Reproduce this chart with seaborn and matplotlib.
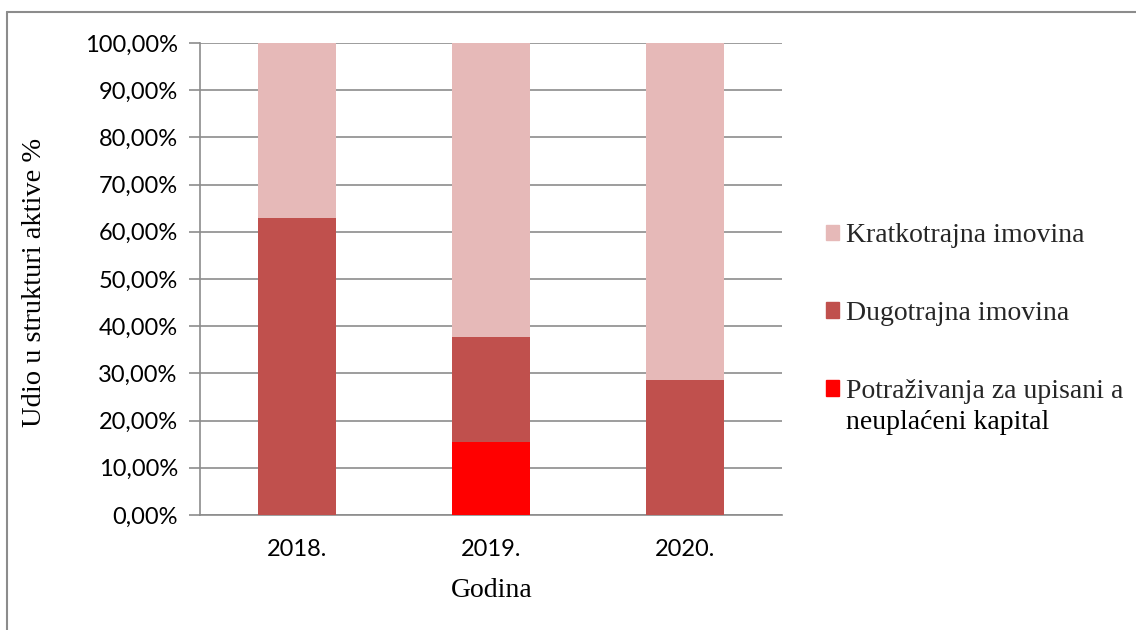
import numpy as np
import pandas as pd
import matplotlib
matplotlib.use("Agg")
import matplotlib.pyplot as plt
import seaborn as sns
from matplotlib.lines import Line2D
from matplotlib.patches import Patch

godine = ["2018.", "2019.", "2020."]
potrazivanja = [0.0, 15.5, 0.0]
dugotrajna = [62.9, 22.3, 28.7]
kratkotrajna = [37.1, 62.2, 71.3]

boja_kratko = "#e6b9b8"
boja_dugo = "#c0504d"
boja_potr = "#ff0000"
siva = "#8c8c8c"

df = pd.DataFrame({
    "Godina": godine,
    "Potr": potrazivanja,
    "Dugo": dugotrajna,
    "Kratko": kratkotrajna,
})
# kumulativno, crtamo od vrha prema dolje
df["c1"] = df["Potr"]
df["c2"] = df["Potr"] + df["Dugo"]
df["c3"] = df["c2"] + df["Kratko"]

sns.set_style("white")
fig = plt.figure(figsize=(11.36, 6.3), dpi=100)
ax = fig.add_axes([200 / 1136, 1 - 515 / 630, 582 / 1136, 472 / 630])

for col, boja in [("c3", boja_kratko), ("c2", boja_dugo), ("c1", boja_potr)]:
    sns.barplot(data=df, x="Godina", y=col, color=boja, width=0.4,
                saturation=1, ax=ax, linewidth=0, zorder=3)

ax.set_ylim(0, 100)
ax.set_xlim(-0.5, 2.5)
ax.set_yticks(np.arange(0, 101, 10))
ax.set_yticklabels([f"{v:.2f}".replace(".", ",") + "%" for v in np.arange(0, 101, 10)],
                   fontsize=17, family="Lato", color="black")
ax.set_xticks([0, 1, 2])
ax.set_xticklabels(godine, fontsize=17, family="Lato", color="black")
ax.set_xticks([-0.5, 0.5, 1.5, 2.5], minor=True)
ax.tick_params(axis="x", which="major", length=0, pad=17)
ax.tick_params(axis="x", which="minor", length=8, color=siva, width=1.2, direction="out")
ax.tick_params(axis="y", length=8, color=siva, width=1.2, direction="out", pad=8, left=True)
ax.grid(axis="y", color=siva, linewidth=1.2, zorder=0)
ax.set_axisbelow(True)
for s in ["top", "right"]:
    ax.spines[s].set_visible(False)
for s in ["left", "bottom"]:
    ax.spines[s].set_color(siva)
    ax.spines[s].set_linewidth(1.2)

ax.set_xlabel("Godina", fontsize=20, family="Liberation Serif", color="black")
ax.set_ylabel("Udio u strukturi aktive %", fontsize=20.5, family="Liberation Serif", color="black")
ax.xaxis.label.set_verticalalignment("center")
ax.yaxis.label.set_verticalalignment("center")
ax.xaxis.set_label_coords(0.502, -0.159)
ax.yaxis.set_label_coords(-0.285, 0.492)

handles = [Patch(color=boja_kratko), Patch(color=boja_dugo), Patch(color=boja_potr)]
labels = ["Kratkotrajna imovina", "Dugotrajna imovina", "Potraživanja za upisani a"]
leg = fig.legend(handles, labels, loc="upper left", bbox_to_anchor=(804 / 1136, 1 - 201 / 630),
                 frameon=False, prop={"family": "Liberation Serif", "size": 20},
                 handlelength=0.47, handleheight=0.47, handletextpad=0.25, labelspacing=1.9,
                 borderpad=0.3)

# drugi red zadnje stavke legende
fig.canvas.draw()
bb = leg.get_texts()[2].get_window_extent().transformed(fig.transFigure.inverted())
fig.text(bb.x0, bb.y0 - 31 / 630, "neuplaćeni kapital", transform=fig.transFigure,
         family="Liberation Serif", fontsize=20, color="black", ha="left", va="bottom")

# okvir grafikona
fig.add_artist(Line2D([7 / 1136, 7 / 1136], [0, 1 - 12 / 630], transform=fig.transFigure,
                      color=siva, linewidth=1.5))
fig.add_artist(Line2D([7 / 1136, 1], [1 - 12 / 630, 1 - 12 / 630], transform=fig.transFigure,
                      color=siva, linewidth=1.5))

fig.savefig("out.png", dpi=100)
